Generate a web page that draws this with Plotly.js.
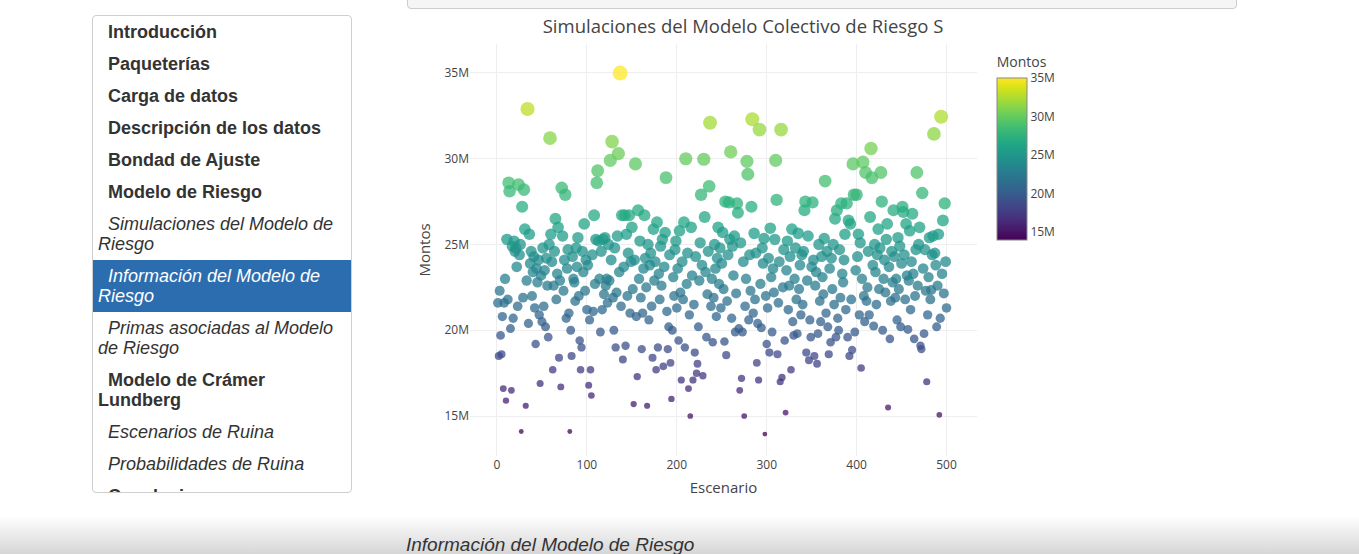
<!DOCTYPE html>
<html>
<head>
<meta charset="utf-8">
<script src="https://cdn.plot.ly/plotly-3.0.1.min.js"></script>
<style>
html,body{margin:0;padding:0;background:#fff;width:1359px;height:554px;overflow:hidden;position:relative;font-family:"Liberation Sans",Arial,Helvetica,sans-serif;}
#toc{position:absolute;left:92px;top:15px;width:258px;height:476px;border:1px solid #cfcfcf;border-radius:4px;overflow:hidden;background:#fff;}
.it{padding:6px 5px;line-height:20px;font-size:18px;text-indent:10px;color:#333;}
.b{font-weight:bold;}
.i{font-style:italic;}
.act{background:#2c6db0;color:#fff;}
#pre{position:absolute;left:407px;top:-12px;width:828px;height:19px;background:#f5f5f5;border:1px solid #ccc;border-radius:4px;z-index:3;}
#plot{position:absolute;left:407px;top:0;width:672px;height:510px;}
#shade{position:absolute;left:0;top:516px;width:1359px;height:38px;background:linear-gradient(to bottom, rgba(0,0,0,0), rgba(0,0,0,0.16));z-index:1;}
#h{position:absolute;left:406px;top:534px;font-size:19px;font-style:italic;color:#333;z-index:2;white-space:nowrap;}
</style>
</head>
<body>
<div id="toc">
  <div class="it b">Introducción</div>
  <div class="it b">Paqueterías</div>
  <div class="it b">Carga de datos</div>
  <div class="it b">Descripción de los datos</div>
  <div class="it b">Bondad de Ajuste</div>
  <div class="it b">Modelo de Riesgo</div>
  <div class="it i">Simulaciones del Modelo de Riesgo</div>
  <div class="it i act">Información del Modelo de Riesgo</div>
  <div class="it i">Primas asociadas al Modelo de Riesgo</div>
  <div class="it b">Modelo de Crámer Lundberg</div>
  <div class="it i">Escenarios de Ruina</div>
  <div class="it i">Probabilidades de Ruina</div>
  <div class="it b">Conclusiones</div>
</div>
<div id="pre"></div>
<div id="plot"></div>
<div id="shade"></div>
<div id="h">Información del Modelo de Riesgo</div>
<script>
// Montos simulados (millones) por escenario 1..500
var montos = [
21.6,18.5,22.3,19.7,18.6,20.8,16.6,21.6,23.0,15.9,
25.3,21.8,28.6,28.1,20.1,16.5,24.9,20.7,25.2,24.6,
24.8,23.7,21.4,28.5,24.4,25.0,14.1,27.2,21.9,28.2,
25.9,15.6,22.9,32.9,20.4,25.6,23.9,24.6,22.0,23.4,
24.3,21.3,19.2,23.6,22.8,24.1,20.9,16.9,23.2,20.5,
24.8,21.4,23.5,20.2,24.2,22.6,19.6,25.0,31.2,25.6,
24.0,17.7,22.6,24.6,26.5,21.8,23.3,26.0,18.4,22.9,
16.7,28.3,25.5,22.3,24.1,27.9,20.7,23.6,24.7,21.0,
14.1,20.0,18.5,24.3,23.0,22.8,21.7,24.8,23.7,25.4,
22.0,19.4,17.7,19.0,24.6,23.4,26.2,22.3,24.1,21.2,
23.8,16.8,20.6,17.7,16.2,24.4,21.1,26.7,22.7,25.3,
28.6,29.3,25.2,23.0,19.9,24.6,21.2,25.3,22.1,25.4,
22.6,23.0,21.6,25.0,22.9,29.9,24.1,31.0,21.9,20.0,
24.8,19.0,22.2,25.5,30.3,23.4,35.0,21.4,26.7,18.3,
23.7,26.7,19.1,25.6,22.0,24.5,26.7,21.0,24.0,26.0,
22.4,15.7,24.1,29.7,20.8,17.3,27.0,23.0,25.2,21.9,
18.9,21.0,23.6,26.7,24.2,22.5,15.6,25.0,20.6,23.8,
24.5,21.4,18.4,25.9,22.9,24.0,17.7,26.3,19.0,23.3,
21.8,24.9,22.6,25.3,17.9,23.7,25.7,28.9,21.1,18.9,
20.2,24.4,18.1,16.0,20.0,23.1,22.0,24.7,25.2,21.3,
23.6,19.4,25.8,22.2,17.1,24.0,21.8,26.3,19.0,30.0,
22.7,24.5,16.6,20.9,15.0,26.0,23.2,17.1,21.5,18.7,
24.3,17.5,18.05,20.2,22.9,25.1,27.9,23.8,17.35,29.97,
26.6,23.4,19.6,22.1,24.6,28.4,32.1,21.4,23.0,19.3,
21.9,25.0,23.6,20.8,24.2,26.0,22.7,24.8,21.3,23.9,
25.7,22.4,19.35,27.5,18.55,21.7,24.4,27.45,25.3,30.4,
20.7,24.9,23.2,25.5,19.9,22.15,27.4,26.85,20.1,16.5,
25.1,17.2,19.9,24.0,15.0,21.4,23.0,29.85,29.1,20.6,
24.4,22.3,27.2,32.3,21.0,25.65,21.8,24.5,18.1,20.4,
17.1,31.7,22.7,20.15,24.8,23.9,25.35,13.95,22.0,19.2,
21.3,24.2,18.7,25.95,23.1,19.9,23.6,22.2,25.3,29.9,
27.6,18.6,21.6,24.0,17.0,31.7,17.25,22.5,24.7,19.4,
15.2,23.5,25.2,21.2,22.6,24.3,17.7,25.9,20.5,19.7,
23.0,24.8,21.8,19.8,25.65,22.4,23.8,20.9,24.4,21.5,
24.6,27.0,27.5,18.7,22.9,25.5,18.25,20.6,19.6,23.7,
27.45,24.1,18.5,22.6,23.4,18.05,19.8,25.0,21.7,20.5,
24.3,23.1,22.1,25.35,28.7,21.0,24.6,20.2,18.6,23.6,
19.3,24.2,22.4,25.0,21.5,26.5,19.6,27.0,20.7,20.0,
24.7,21.9,27.4,23.3,22.8,24.1,25.6,21.2,27.4,19.6,
26.4,18.5,26.2,21.8,18.85,29.7,27.9,19.9,23.5,27.9,
24.3,25.6,20.9,25.1,17.8,23.0,29.8,22.0,20.5,29.2,
21.7,22.5,24.6,20.9,26.6,30.6,28.9,23.8,20.25,25.0,
23.4,21.5,24.4,25.9,22.4,24.8,29.2,27.5,20.0,23.0,
24.1,22.2,25.3,26.2,15.5,23.7,19.5,21.7,24.6,22.8,
27.0,24.3,21.9,23.0,20.6,25.4,22.4,24.9,20.2,23.9,
27.2,26.9,24.4,21.8,26.2,23.2,20.05,22.9,25.8,21.2,
24.0,26.8,23.3,19.5,22.0,24.7,29.2,22.6,25.0,26.0,
19.1,18.9,28.0,23.6,19.8,24.7,22.3,17.0,20.9,23.1,
25.4,21.8,22.35,24.4,25.5,31.45,24.5,23.8,20.2,22.6,
25.6,15.07,20.7,32.45,23.3,26.4,22.15,27.4,24.0,21.3
];
var titulo = 'Simulaciones del Modelo Colectivo de Riesgo S';
var tituloX = 'Escenario';
var tituloY = 'Montos';

var escenario = montos.map(function(v, i){ return i + 1; });
var mn = Math.min.apply(null, montos), mx = Math.max.apply(null, montos);
var tamanos = montos.map(function(v){ return 10 + 90 * (v - mn) / (mx - mn); });

var trace = {
  type: 'scatter', mode: 'markers', x: escenario, y: montos,
  marker: {
    size: tamanos, sizemode: 'area', sizeref: 0.9,
    color: montos, colorscale: 'Viridis', opacity: 0.75, line: {width: 0},
    colorbar: {
      title: {text: 'Montos', font: {size: 14, color: '#444'}},
      ticksuffix: 'M', tick0: 0, dtick: 5, len: 0.5, y: 1, yanchor: 'top',
      thickness: 30, outlinecolor: '#888', outlinewidth: 1,
      tickfont: {size: 12, color: '#444'}
    }
  },
  hoverinfo: 'none'
};
var layout = {
  width: 672, height: 510,
  margin: {l: 63, r: 102, t: 44, b: 54},
  paper_bgcolor: '#fff', plot_bgcolor: '#fff',
  font: {family: '"Open Sans", verdana, arial, sans-serif', size: 12, color: '#444'},
  title: {text: titulo, font: {size: 18.5, color: '#444'}, x: 0.5, xref: 'container', y: 1 - 27/510, yref: 'container', yanchor: 'middle'},
  xaxis: {title: {text: tituloX, font: {size: 15}, standoff: 10}, range: [-30, 533.9], tick0: 0, dtick: 100, gridcolor: '#eee', zeroline: false, showline: false},
  yaxis: {title: {text: tituloY, font: {size: 15}}, range: [12.67, 36.69], tick0: 0, dtick: 5, ticksuffix: 'M', gridcolor: '#eee', zeroline: false, showline: false},
  showlegend: false, hovermode: false
};
Plotly.newPlot('plot', [trace], layout, {displayModeBar: false, staticPlot: true});
</script>
</body>
</html>
